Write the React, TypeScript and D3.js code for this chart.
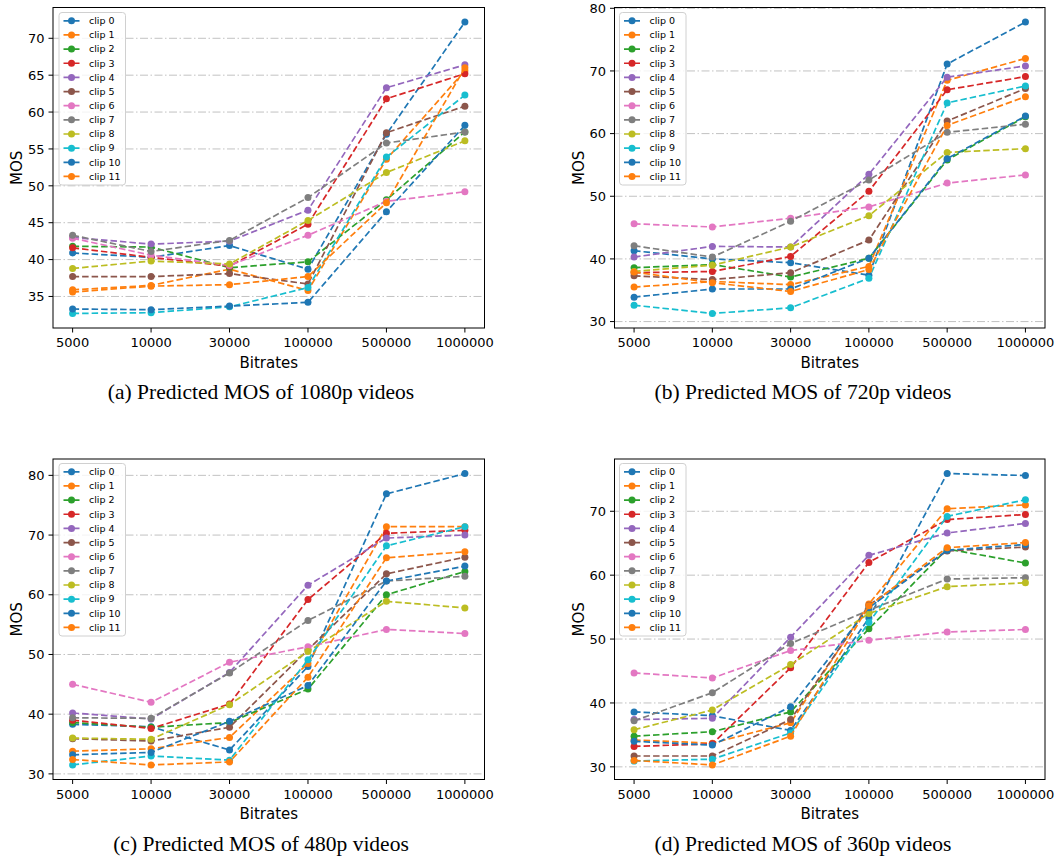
import React from 'react';
import * as d3 from 'd3';

const bitrates = ['5000', '10000', '30000', '100000', '500000', '1000000'];
const clipNames = ['clip 0', 'clip 1', 'clip 2', 'clip 3', 'clip 4', 'clip 5', 'clip 6', 'clip 7', 'clip 8', 'clip 9', 'clip 10', 'clip 11'];
const clipColors = ['#1f77b4', '#ff7f0e', '#2ca02c', '#d62728', '#9467bd', '#8c564b', '#e377c2', '#7f7f7f', '#bcbd22', '#17becf', '#1f77b4', '#ff7f0e'];

const mos1080p = [
  [40.9, 40.3, 41.9, 38.7, 57.0, 72.2],
  [35.9, 36.5, 38.7, 35.8, 53.6, 65.6],
  [41.8, 41.7, 38.9, 39.7, 48.1, 57.3],
  [41.6, 40.3, 39.1, 44.8, 61.8, 65.2],
  [43.0, 42.1, 42.5, 46.7, 63.3, 66.4],
  [37.7, 37.7, 38.1, 36.7, 57.2, 60.8],
  [42.9, 40.6, 39.2, 43.3, 47.9, 49.2],
  [43.3, 41.1, 42.6, 48.4, 55.8, 57.3],
  [38.8, 39.8, 39.4, 45.3, 51.8, 56.1],
  [32.7, 32.8, 33.6, 36.2, 53.9, 62.3],
  [33.3, 33.2, 33.7, 34.2, 46.5, 58.2],
  [35.6, 36.4, 36.6, 37.7, 47.7, 66.0],
];

const mos720p = [
  [41.3, 40.0, 39.4, 37.4, 71.1, 77.8],
  [35.5, 36.4, 35.9, 38.8, 68.5, 72.0],
  [38.6, 39.1, 37.1, 40.1, 55.8, 62.7],
  [37.8, 38.0, 40.4, 50.8, 67.0, 69.1],
  [40.3, 42.0, 41.9, 53.5, 69.0, 70.8],
  [37.3, 36.7, 37.8, 43.0, 62.0, 67.2],
  [45.6, 45.1, 46.5, 48.3, 52.1, 53.4],
  [42.1, 40.3, 46.0, 52.6, 60.2, 61.5],
  [38.0, 39.0, 41.9, 46.9, 57.0, 57.6],
  [32.6, 31.3, 32.2, 36.9, 64.9, 67.6],
  [33.9, 35.2, 35.2, 40.1, 56.0, 62.8],
  [37.9, 36.2, 34.8, 38.3, 61.3, 65.9],
];

const mos480p = [
  [38.3, 37.9, 34.0, 48.0, 76.9, 80.3],
  [33.8, 34.2, 36.1, 48.5, 71.4, 71.4],
  [38.6, 37.8, 38.6, 44.2, 60.0, 63.9],
  [39.0, 37.6, 41.7, 59.2, 70.3, 70.8],
  [40.2, 39.2, 47.0, 61.6, 69.5, 70.0],
  [35.9, 35.5, 37.8, 50.8, 63.5, 66.3],
  [45.0, 42.0, 48.7, 51.3, 54.2, 53.5],
  [39.4, 39.3, 46.9, 55.7, 62.3, 63.1],
  [36.0, 35.8, 41.6, 50.5, 58.9, 57.8],
  [31.5, 33.0, 32.3, 49.1, 68.2, 71.4],
  [33.2, 33.6, 38.8, 44.8, 62.3, 64.8],
  [32.4, 31.5, 32.0, 46.2, 66.2, 67.2],
];

const mos360p = [
  [38.6, 38.0, 35.7, 53.3, 75.9, 75.6],
  [34.2, 33.7, 36.9, 55.5, 70.4, 71.0],
  [34.8, 35.5, 38.6, 51.6, 64.1, 61.9],
  [33.2, 33.6, 45.5, 62.0, 68.7, 69.5],
  [37.4, 37.6, 50.3, 63.1, 66.6, 68.1],
  [31.7, 31.7, 37.4, 55.3, 63.8, 64.4],
  [44.7, 43.9, 48.2, 49.8, 51.1, 51.5],
  [37.2, 41.6, 49.3, 54.5, 59.4, 59.6],
  [35.8, 38.9, 46.0, 54.0, 58.2, 58.8],
  [30.9, 31.2, 35.3, 52.6, 69.2, 71.8],
  [34.0, 33.4, 39.4, 54.9, 63.9, 64.8],
  [31.0, 30.3, 34.8, 55.2, 64.3, 65.1],
];

const yTicks1080 = [35, 40, 45, 50, 55, 60, 65, 70];
const yTicks720 = [30, 40, 50, 60, 70, 80];
const yTicks480 = [30, 40, 50, 60, 70, 80];
const yTicks360 = [30, 40, 50, 60, 70];

const captions = [
  '(a) Predicted MOS of 1080p videos',
  '(b) Predicted MOS of 720p videos',
  '(c) Predicted MOS of 480p videos',
  '(d) Predicted MOS of 360p videos',
];

const SANS = '"DejaVu Sans", sans-serif';
const SERIF = '"Liberation Serif", "Times New Roman", serif';

type Box = { l: number; r: number; t: number; b: number };
type PanelSpec = { data: number[][]; ticks: number[]; caption: string; box: Box; legend: { x: number; y: number }; capX: number };

const panels: PanelSpec[] = [
  { data: mos1080p, ticks: yTicks1080, caption: captions[0], box: { l: 53, r: 484.5, t: 7.5, b: 328 }, legend: { x: 59, y: 12.5 }, capX: 261 },
  { data: mos720p, ticks: yTicks720, caption: captions[1], box: { l: 614.5, r: 1045, t: 7.5, b: 328 }, legend: { x: 619.5, y: 12.5 }, capX: 803 },
  { data: mos480p, ticks: yTicks480, caption: captions[2], box: { l: 53, r: 484.5, t: 459, b: 779.5 }, legend: { x: 59, y: 463.5 }, capX: 261 },
  { data: mos360p, ticks: yTicks360, caption: captions[3], box: { l: 614.5, r: 1045, t: 459, b: 779.5 }, legend: { x: 619.5, y: 463.5 }, capX: 803 },
];

function Panel({ p }: { p: PanelSpec }) {
  const { l, r, t, b } = p.box;
  const x = d3.scaleLinear().domain([-0.25, bitrates.length - 1 + 0.25]).range([l, r]);
  const all = p.data.flat();
  const mn = d3.min(all) as number;
  const mx = d3.max(all) as number;
  const pad = (mx - mn) * 0.05;
  const y = d3.scaleLinear().domain([mn - pad, mx + pad]).range([b, t]);
  const line = d3.line<number>().x((_, i) => x(i)).y((v) => y(v));
  const lg = p.legend;
  const rowH = 14.15;
  return (
    <g>
      {p.ticks.map((tv) => (
        <line key={'g' + tv} x1={l} x2={r} y1={y(tv)} y2={y(tv)} stroke="#c2c2c2" strokeWidth={1} strokeDasharray="8,2.5,1.5,2.5" />
      ))}
      {p.data.map((s, si) => (
        <g key={'s' + si}>
          <path d={line(s) || ''} fill="none" stroke={clipColors[si]} strokeWidth={1.7} strokeDasharray="6.5,3" />
          {s.map((v, i) => (
            <circle key={i} cx={x(i)} cy={y(v)} r={3.5} fill={clipColors[si]} />
          ))}
        </g>
      ))}
      <rect x={l} y={t} width={r - l} height={b - t} fill="none" stroke="#000" strokeWidth={1} />
      {bitrates.map((c, i) => (
        <g key={'x' + c}>
          <line x1={x(i)} x2={x(i)} y1={b} y2={b + 4.5} stroke="#000" strokeWidth={1} />
          <text x={x(i)} y={b + 19} textAnchor="middle" fontFamily={SANS} fontSize={13} fill="#000">{c}</text>
        </g>
      ))}
      {p.ticks.map((tv) => (
        <g key={'y' + tv}>
          <line x1={l - 4.5} x2={l} y1={y(tv)} y2={y(tv)} stroke="#000" strokeWidth={1} />
          <text x={l - 8.5} y={y(tv)} dy="0.36em" textAnchor="end" fontFamily={SANS} fontSize={13} fill="#000">{tv}</text>
        </g>
      ))}
      <text x={(l + r) / 2} y={b + 39.5} textAnchor="middle" fontFamily={SANS} fontSize={15} fill="#000">Bitrates</text>
      <text transform={`translate(${l - 31},${(t + b) / 2}) rotate(-90)`} textAnchor="middle" fontFamily={SANS} fontSize={15} fill="#000">MOS</text>
      <text x={p.capX} y={b + 71} textAnchor="middle" fontFamily={SERIF} fontSize={21.5} fill="#000">{p.caption}</text>
      <g>
        <rect x={lg.x} y={lg.y} width={66.5} height={172.5} rx={3} ry={3} fill="#fff" fillOpacity={0.8} stroke="#d0d0d0" strokeWidth={1} />
        {clipNames.map((n, i) => {
          const cy = lg.y + 8.3 + i * rowH;
          return (
            <g key={'l' + i}>
              <line x1={lg.x + 3.5} x2={lg.x + 21.5} y1={cy} y2={cy} stroke={clipColors[i]} strokeWidth={1.7} strokeDasharray="6.5,3" strokeDashoffset={-1} />
              <circle cx={lg.x + 12.5} cy={cy} r={3.5} fill={clipColors[i]} />
              <text x={lg.x + 30} y={cy} dy="0.35em" fontFamily={SANS} fontSize={9.5} fill="#000">{n}</text>
            </g>
          );
        })}
      </g>
    </g>
  );
}

export default function App() {
  return (
    <div style={{ position: 'absolute', left: 0, top: 0 }}>
      <svg width={1058} height={858} viewBox="0 0 1058 858" style={{ display: 'block', background: '#fff' }}>
        <rect x={0} y={0} width={1058} height={858} fill="#fff" />
        {panels.map((p, i) => (
          <Panel key={i} p={p} />
        ))}
      </svg>
    </div>
  );
}
